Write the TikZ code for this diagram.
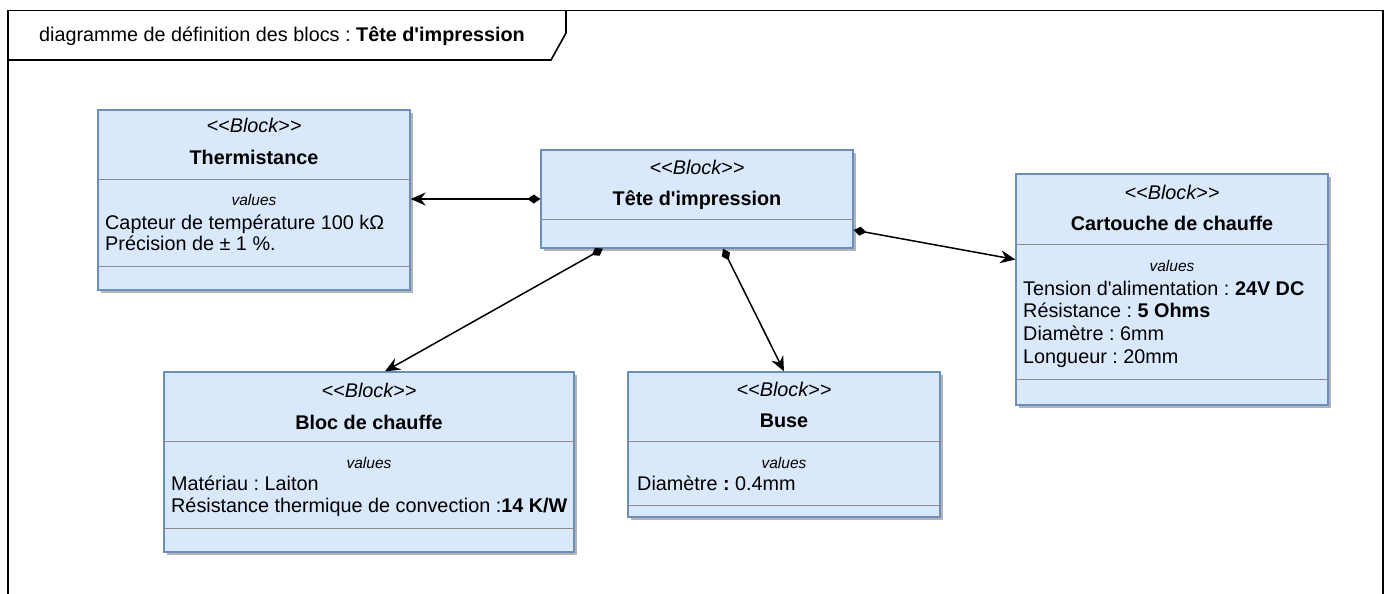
\documentclass[tikz,border=0pt]{standalone}
\usepackage{fontspec}
\setmainfont{Liberation Sans}
\usetikzlibrary{arrows.meta}
\frenchspacing

\definecolor{blockfill}{HTML}{DAE8FC}
\definecolor{blockline}{HTML}{6C8EBF}
\definecolor{sepline}{HTML}{8C8C8C}
\definecolor{shade}{HTML}{B4B4B4}

\newcommand\blkfont{\fontsize{19.8pt}{23pt}\selectfont}
\newcommand\valfont{\fontsize{15.5pt}{18pt}\selectfont\itshape}

\begin{document}
\begin{tikzpicture}[x=1pt,y=-1pt,
  frameline/.style={draw=black, line width=1.6pt},
  block/.style={rectangle, draw=blockline, fill=blockfill, line width=1.3pt, inner sep=0pt,
    preaction={fill=shade, transform canvas={xshift=3pt,yshift=-3pt}}},
  sepl/.style={draw=sepline, line width=1.3pt},
  stereo/.style={anchor=base, inner sep=0pt, font=\blkfont\itshape},
  bname/.style={anchor=base, inner sep=0pt, font=\blkfont\bfseries},
  vhead/.style={anchor=base, inner sep=0pt, font=\valfont},
  vline/.style={anchor=base west, inner sep=0pt, font=\blkfont},
  assoc/.style={draw=black, line width=1.5pt,
    {Diamond[length=13pt,width=9pt]}-{Stealth[length=15pt,width=13pt,inset=5pt]}}
]
\useasboundingbox (0,0) rectangle (1390,594);
\clip (0,0) rectangle (1390,594);

% outer frame with its name tab
\draw[frameline] (8,600) -- (8,10.5) -- (1383,10.5) -- (1383,600);
\draw[frameline] (8,60) -- (551,60) -- (566,33) -- (566,10.5);
\node[anchor=base west, inner sep=0pt, font=\blkfont] (frametitle) at (39,42)
  {diagramme de définition des blocs : \textbf{Tête d\textquotesingle impression}};

% blocks
\node[block, minimum width=312pt, minimum height=180pt] (therm) at (254,200) {};
\node[block, minimum width=312pt, minimum height=98pt]  (tete)  at (697,199) {};
\node[block, minimum width=312pt, minimum height=231pt] (cart)  at (1172,289.5) {};
\node[block, minimum width=410pt, minimum height=180pt] (bloc)  at (369,462) {};
\node[block, minimum width=312pt, minimum height=145pt] (buse)  at (784,444.5) {};

% compartment separators
\draw[sepl] ([yshift=-70pt]therm.north west) -- ([yshift=-70pt]therm.north east);
\draw[sepl] ([yshift=-157pt]therm.north west) -- ([yshift=-157pt]therm.north east);
\draw[sepl] ([yshift=-70pt]tete.north west) -- ([yshift=-70pt]tete.north east);
\draw[sepl] ([yshift=-71pt]cart.north west) -- ([yshift=-71pt]cart.north east);
\draw[sepl] ([yshift=-206pt]cart.north west) -- ([yshift=-206pt]cart.north east);
\draw[sepl] ([yshift=-70pt]bloc.north west) -- ([yshift=-70pt]bloc.north east);
\draw[sepl] ([yshift=-157pt]bloc.north west) -- ([yshift=-157pt]bloc.north east);
\draw[sepl] ([yshift=-70pt]buse.north west) -- ([yshift=-70pt]buse.north east);
\draw[sepl] ([yshift=-134pt]buse.north west) -- ([yshift=-134pt]buse.north east);

% Thermistance
\node[stereo] (thermS) at (254,132) {<{}<Block>{}>};
\node[bname]  (thermN) at (254,164) {Thermistance};
\node[vhead]  (thermV) at (254,205) {values};
\node[vline]  (thermA) at (105,229) {Capteur de température 100 kΩ};
\node[vline]  (thermB) at (105,250) {Précision de ± 1 \%.};

% Tête d'impression
\node[stereo] (teteS) at (697,174) {<{}<Block>{}>};
\node[bname]  (teteN) at (697,205) {Tête d\textquotesingle impression};

% Cartouche de chauffe
\node[stereo] (cartS) at (1172,199) {<{}<Block>{}>};
\node[bname]  (cartN) at (1172,230) {Cartouche de chauffe};
\node[vhead]  (cartV) at (1172,271) {values};
\node[vline]  (cartA) at (1023,295) {Tension d\textquotesingle alimentation : \textbf{24V DC}};
\node[vline]  (cartB) at (1023,317) {Résistance : \textbf{5 Ohms}};
\node[vline]  (cartC) at (1023,340) {Diamètre : 6mm};
\node[vline]  (cartD) at (1023,363) {Longueur : 20mm};

% Bloc de chauffe
\node[stereo] (blocS) at (369,397) {<{}<Block>{}>};
\node[bname]  (blocN) at (369,429) {Bloc de chauffe};
\node[vhead]  (blocV) at (369,468) {values};
\node[vline]  (blocA) at (171,490) {Matériau : Laiton};
\node[vline]  (blocB) at (171,512) {Résistance thermique de convection :\textbf{14 K/W}};

% Buse
\node[stereo] (buseS) at (784,396) {<{}<Block>{}>};
\node[bname]  (buseN) at (784,427) {Buse};
\node[vhead]  (buseV) at (784,468) {values};
\node[vline]  (buseA) at (637,490) {Diamètre \textbf{:} 0.4mm};

% composition links
\draw[assoc] (tete.west) -- (therm.east |- tete.west);
\draw[assoc] ([xshift=-94pt]tete.south) -- ([xshift=16pt]bloc.north);
\draw[assoc] ([xshift=26pt]tete.south) -- (buse.north);
\draw[assoc] ([yshift=-31pt]tete.east) -- ([yshift=30pt]cart.west);
\end{tikzpicture}
\end{document}
